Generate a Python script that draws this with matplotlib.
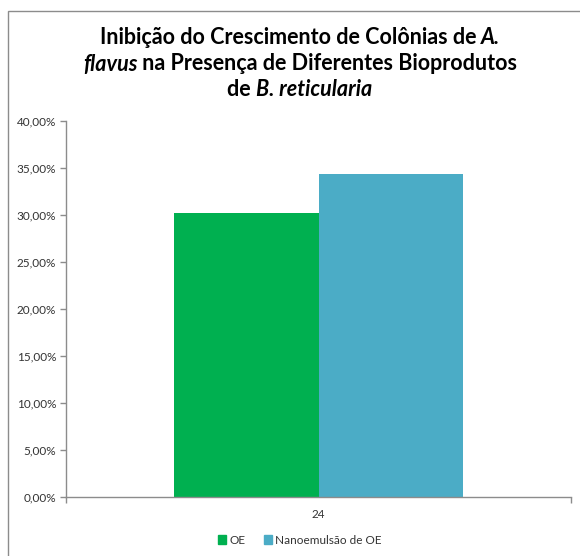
import matplotlib
matplotlib.use("Agg")
import matplotlib.pyplot as plt
from matplotlib.patches import Rectangle, Patch
from matplotlib.ticker import FuncFormatter

plt.rcParams['font.family'] = ['Lato', 'DejaVu Sans']

categories = ["24"]
series_names = ["OE", "Nanoemulsão de OE"]
series_values = [[30.2], [34.4]]
colors = ["#00B050", "#4BACC6"]
y_ticks = [0, 5, 10, 15, 20, 25, 30, 35, 40]

W, H = 580, 556
fig = plt.figure(figsize=(W / 100, H / 100), dpi=100)

# outer chart frame (right and bottom edges fall outside the canvas)
fig.patches.append(Rectangle((8 / W, -0.1), 1.2, 1.1 - 11 / H,
                             transform=fig.transFigure, fill=False,
                             edgecolor="#8C8C8C", linewidth=1.0))

ax = fig.add_axes([66 / W, 1 - 497 / H, (571 - 66) / W, (497 - 121) / H])

n = len(series_names)
group_w = 0.571
bw = group_w / n
for i, (name, vals) in enumerate(zip(series_names, series_values)):
    xs = [k - group_w / 2 + bw * (i + 0.5) for k in range(len(categories))]
    ax.bar(xs, vals, width=bw, color=colors[i], label=name, zorder=2)

ax.set_xlim(-0.5, len(categories) - 0.5)
ax.set_ylim(0, 40)
ax.set_yticks(y_ticks)
ax.yaxis.set_major_formatter(FuncFormatter(lambda v, p: f"{v:.2f}%".replace(".", ",")))
ax.set_xticks(range(len(categories)))
ax.set_xticklabels(categories)
ax.tick_params(axis='x', length=0, pad=9, labelsize=8.5, colors="#333333")
ax.tick_params(axis='y', length=4, width=1, color="#8C8C8C", labelsize=8.5,
               labelcolor="#333333", pad=3)
# category boundary ticks
ax.set_xticks([-0.5, len(categories) - 0.5], minor=True)
ax.tick_params(axis='x', which='minor', length=4, width=1, color="#8C8C8C", direction='out')

for s in ["top", "right"]:
    ax.spines[s].set_visible(False)
for s in ["left", "bottom"]:
    ax.spines[s].set_color("#8C8C8C")
    ax.spines[s].set_linewidth(1.0)

leg = fig.legend(handles=[Patch(color=c, label=l) for c, l in zip(colors, series_names)],
                 loc="center", bbox_to_anchor=(300 / W, 1 - 540 / H), ncol=2,
                 frameon=False, fontsize=8.5, handlelength=0.7, handleheight=0.7,
                 handletextpad=0.25, columnspacing=1.6)
for t in leg.get_texts():
    t.set_color("#333333")

# title with mixed upright / italic bold segments
title_lines = [
    [("Inibição do Crescimento de Colônias de ", "normal"), ("A.", "italic")],
    [("flavus", "italic"), (" na Presença de Diferentes Bioprodutos", "normal")],
    [("de ", "normal"), ("B. reticularia", "italic")],
]
title_y = [38, 64, 90]
title_cx = 300
fs = 15.5
fig.canvas.draw()
renderer = fig.canvas.get_renderer()
for segs, yy in zip(title_lines, title_y):
    texts = []
    widths = []
    for s, style in segs:
        t = fig.text(0, 1 - yy / H, s, fontsize=fs, fontweight="bold", style=style,
                     ha="left", va="center", color="black")
        bb = t.get_window_extent(renderer)
        texts.append(t)
        widths.append(bb.width)
    total = sum(widths)
    x0 = title_cx - total / 2
    for t, w in zip(texts, widths):
        t.set_x(x0 / W)
        x0 += w

fig.savefig("out.png", dpi=100, facecolor="white")
